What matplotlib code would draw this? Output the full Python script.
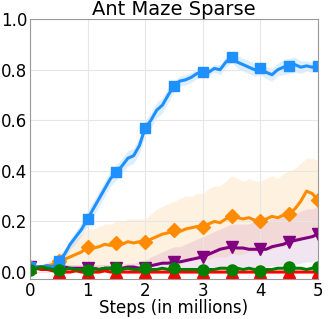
import matplotlib
matplotlib.use("Agg")
import matplotlib.pyplot as plt
import numpy as np

steps = np.arange(0, 5.01, 0.1)

blue_mean = [0.02, 0.02, 0.02, 0.025, 0.02, 0.045, 0.07, 0.11, 0.14, 0.17,
             0.21, 0.25, 0.29, 0.33, 0.37, 0.395, 0.42, 0.45, 0.46, 0.50,
             0.57, 0.60, 0.64, 0.66, 0.70, 0.735, 0.755, 0.76, 0.77, 0.785,
             0.79, 0.79, 0.805, 0.80, 0.83, 0.85, 0.83, 0.82, 0.81, 0.80,
             0.805, 0.79, 0.78, 0.80, 0.81, 0.815, 0.82, 0.81, 0.815, 0.81, 0.815]
blue_err = [0.01, 0.01, 0.01, 0.01, 0.01, 0.015, 0.02, 0.02, 0.025, 0.025,
            0.03, 0.03, 0.03, 0.03, 0.03, 0.03, 0.03, 0.03, 0.03, 0.03,
            0.03, 0.03, 0.03, 0.03, 0.03, 0.02, 0.02, 0.02, 0.02, 0.02,
            0.015, 0.015, 0.015, 0.02, 0.02, 0.02, 0.025, 0.025, 0.025, 0.025,
            0.025, 0.025, 0.025, 0.025, 0.03, 0.03, 0.03, 0.025, 0.02, 0.02, 0.02]

orange_mean = [0.02, 0.02, 0.02, 0.025, 0.03, 0.045, 0.05, 0.06, 0.07, 0.08,
               0.10, 0.095, 0.10, 0.11, 0.105, 0.115, 0.11, 0.12, 0.115, 0.12,
               0.12, 0.13, 0.14, 0.15, 0.155, 0.165, 0.16, 0.17, 0.175, 0.18,
               0.18, 0.19, 0.20, 0.195, 0.21, 0.22, 0.215, 0.21, 0.215, 0.205,
               0.20, 0.21, 0.22, 0.215, 0.225, 0.23, 0.25, 0.28, 0.32, 0.31, 0.285]
orange_hi = [0.03, 0.03, 0.03, 0.04, 0.05, 0.07, 0.09, 0.11, 0.13, 0.15,
             0.17, 0.17, 0.18, 0.19, 0.19, 0.20, 0.20, 0.21, 0.21, 0.21,
             0.21, 0.23, 0.25, 0.26, 0.27, 0.28, 0.29, 0.30, 0.30, 0.31,
             0.31, 0.33, 0.34, 0.34, 0.36, 0.38, 0.37, 0.36, 0.37, 0.36,
             0.36, 0.37, 0.38, 0.37, 0.39, 0.40, 0.41, 0.43, 0.45, 0.45, 0.44]
orange_lo = [0.01, 0.01, 0.01, 0.01, 0.01, 0.02, 0.02, 0.02, 0.02, 0.02,
             0.02, 0.02, 0.02, 0.02, 0.02, 0.02, 0.02, 0.03, 0.03, 0.03,
             0.03, 0.03, 0.03, 0.04, 0.04, 0.04, 0.04, 0.05, 0.05, 0.05,
             0.05, 0.05, 0.06, 0.06, 0.06, 0.07, 0.07, 0.07, 0.08, 0.08,
             0.08, 0.09, 0.09, 0.10, 0.10, 0.11, 0.12, 0.13, 0.15, 0.15, 0.14]

purple_mean = [0.02, 0.02, 0.02, 0.015, 0.02, 0.02, 0.02, 0.015, 0.015, 0.015,
               0.015, 0.015, 0.01, 0.015, 0.015, 0.015, 0.015, 0.02, 0.02, 0.015,
               0.015, 0.025, 0.03, 0.035, 0.035, 0.04, 0.04, 0.045, 0.05, 0.055,
               0.06, 0.07, 0.08, 0.09, 0.095, 0.10, 0.095, 0.095, 0.09, 0.09,
               0.09, 0.09, 0.10, 0.105, 0.11, 0.12, 0.125, 0.13, 0.135, 0.14, 0.15]
purple_hi = [0.03, 0.03, 0.03, 0.03, 0.03, 0.03, 0.03, 0.03, 0.03, 0.03,
             0.03, 0.03, 0.03, 0.03, 0.03, 0.03, 0.03, 0.035, 0.035, 0.04,
             0.045, 0.06, 0.07, 0.08, 0.09, 0.10, 0.10, 0.11, 0.12, 0.13,
             0.14, 0.15, 0.16, 0.17, 0.18, 0.19, 0.19, 0.19, 0.19, 0.20,
             0.20, 0.20, 0.21, 0.21, 0.22, 0.23, 0.23, 0.24, 0.25, 0.25, 0.26]
purple_lo = [0.01, 0.01, 0.01, 0.005, 0.01, 0.01, 0.01, 0.005, 0.005, 0.005,
             0.005, 0.005, 0.005, 0.005, 0.005, 0.005, 0.005, 0.005, 0.005, 0.005,
             0.005, 0.005, 0.01, 0.01, 0.01, 0.01, 0.01, 0.01, 0.01, 0.01,
             0.01, 0.015, 0.015, 0.02, 0.02, 0.02, 0.02, 0.02, 0.02, 0.02,
             0.02, 0.02, 0.025, 0.025, 0.03, 0.03, 0.03, 0.035, 0.04, 0.04, 0.04]

green_mean = [0.01, 0.015, 0.02, 0.015, 0.01, 0.01, 0.01, 0.015, 0.01, 0.01,
              0.01, 0.015, 0.01, 0.015, 0.015, 0.015, 0.01, 0.015, 0.01, 0.01,
              0.015, 0.01, 0.01, 0.015, 0.01, 0.015, 0.01, 0.01, 0.01, 0.01,
              0.01, 0.01, 0.01, 0.015, 0.015, 0.01, 0.015, 0.01, 0.015, 0.01,
              0.005, 0.01, 0.01, 0.015, 0.015, 0.02, 0.015, 0.015, 0.01, 0.015, 0.02]

red_mean = [0.02, 0.015, 0.01, 0.01, 0.005, 0.0, 0.0, 0.0, 0.005, 0.0,
            0.0, 0.0, 0.0, 0.005, 0.0, 0.0, 0.0, 0.0, 0.0, 0.0,
            0.0, 0.0, 0.0, 0.0, 0.0, 0.0, 0.0, 0.0, 0.0, 0.0,
            0.0, 0.0, 0.0, 0.0, 0.0, 0.0, 0.0, 0.0, 0.0, 0.0,
            0.0, 0.0, 0.0, 0.0, 0.0, 0.0, 0.0, 0.0, 0.0, 0.0, 0.0]

fig = plt.figure(figsize=(3.32, 3.19), dpi=100)
ax = fig.add_axes([0.09, 0.125, 0.868, 0.815])

blue_mean = np.array(blue_mean)
blue_err = np.array(blue_err)
ax.fill_between(steps, blue_mean - blue_err, blue_mean + blue_err,
                color="#1e90ff", alpha=0.15, linewidth=0)
ax.fill_between(steps, orange_lo, orange_hi, color="#ff8c00", alpha=0.12, linewidth=0)
ax.fill_between(steps, purple_lo, purple_hi, color="#800080", alpha=0.1, linewidth=0)

mk = 5
ax.plot(steps, red_mean, color="red", lw=2.2, marker="^", ms=8, markevery=mk)
ax.plot(steps, purple_mean, color="purple", lw=2.2, marker="v", ms=8, markevery=mk)
ax.plot(steps, orange_mean, color="darkorange", lw=2.2, marker="D", ms=7.5, markevery=mk)
ax.plot(steps, blue_mean, color="#1e90ff", lw=2.2, marker="s", ms=7.5, markevery=mk)
ax.plot(steps, green_mean, color="green", lw=2.2, marker="o", ms=8, markevery=mk)

ax.set_xlim(0, 5)
ax.set_ylim(-0.028, 1.0)
ax.set_xticks([0, 1, 2, 3, 4, 5])
ax.set_yticks([0.0, 0.2, 0.4, 0.6, 0.8, 1.0])
ax.tick_params(labelsize=12, length=0, pad=2)
ax.grid(True, color="#e6e6e6", lw=0.8)
for s in ax.spines.values():
    s.set_color("#999999")
ax.set_xlabel("Steps (in millions)", fontsize=12, labelpad=-1)
ax.set_title("Ant Maze Sparse", fontsize=14, pad=2)

fig.savefig("out.png", dpi=100)
